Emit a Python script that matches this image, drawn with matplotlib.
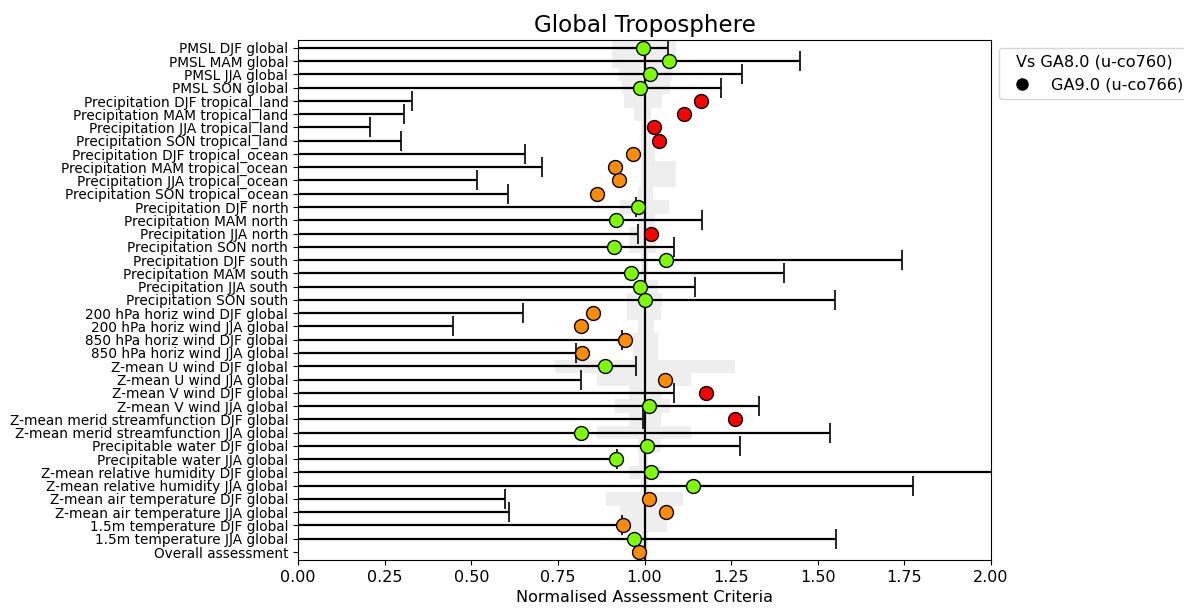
import matplotlib
matplotlib.use('Agg')
import matplotlib.pyplot as plt
from matplotlib.lines import Line2D
import numpy as np

# metric names, top to bottom
labels = ['PMSL DJF global', 'PMSL MAM global', 'PMSL JJA global', 'PMSL SON global',
          'Precipitation DJF tropical_land', 'Precipitation MAM tropical_land',
          'Precipitation JJA tropical_land', 'Precipitation SON tropical_land',
          'Precipitation DJF tropical_ocean', 'Precipitation MAM tropical_ocean',
          'Precipitation JJA tropical_ocean', 'Precipitation SON tropical_ocean',
          'Precipitation DJF north', 'Precipitation MAM north', 'Precipitation JJA north',
          'Precipitation SON north', 'Precipitation DJF south', 'Precipitation MAM south',
          'Precipitation JJA south', 'Precipitation SON south',
          '200 hPa horiz wind DJF global', '200 hPa horiz wind JJA global',
          '850 hPa horiz wind DJF global', '850 hPa horiz wind JJA global',
          'Z-mean U wind DJF global', 'Z-mean U wind JJA global',
          'Z-mean V wind DJF global', 'Z-mean V wind JJA global',
          'Z-mean merid streamfunction DJF global', 'Z-mean merid streamfunction JJA global',
          'Precipitable water DJF global', 'Precipitable water JJA global',
          'Z-mean relative humidity DJF global', 'Z-mean relative humidity JJA global',
          'Z-mean air temperature DJF global', 'Z-mean air temperature JJA global',
          '1.5m temperature DJF global', '1.5m temperature JJA global',
          'Overall assessment']

# normalised assessment criteria of GA9.0 vs GA8.0
scores = [0.995, 1.072, 1.015, 0.987, 1.163, 1.114, 1.028, 1.042, 0.967, 0.916,
          0.927, 0.862, 0.980, 0.918, 1.019, 0.911, 1.062, 0.960, 0.988, 1.001,
          0.851, 0.818, 0.944, 0.820, 0.886, 1.058, 1.178, 1.012, 1.260, 0.818,
          1.008, 0.918, 1.019, 1.141, 1.013, 1.061, 0.938, 0.969, 0.985]

# upper end of the observational uncertainty bar (None = no bar)
unc_hi = [1.068, 1.448, 1.280, 1.220, 0.329, 0.305, 0.208, 0.296, 0.656, 0.703,
          0.517, 0.606, 0.975, 1.166, 0.981, 1.085, 1.743, 1.402, 1.147, 1.550,
          0.650, 0.446, 0.935, 0.801, 0.976, 0.816, 1.086, 1.329, 0.997, 1.534,
          1.276, 0.922, 2.300, 1.775, 0.598, 0.610, 0.935, 1.554, None]

# grey reference range
ref_lo = [0.905, 0.905, 0.925, 0.935, 0.940, 0.970, 0.990, 0.990, 0.990, 0.990,
          0.990, 0.980, 0.930, 0.980, 0.955, 0.955, 0.990, 0.990, 0.975, 0.950,
          0.950, 0.980, 0.968, 0.968, 0.743, 0.862, 0.955, 0.915, 0.955, 0.862,
          0.980, 0.985, 0.955, 0.990, 0.889, 0.928, 0.928, 0.990, 0.990]
ref_hi = [1.090, 1.090, 1.080, 1.075, 1.050, 1.020, 1.020, 1.020, 1.030, 1.090,
          1.090, 1.025, 1.070, 1.030, 1.034, 1.034, 1.010, 1.010, 1.040, 1.050,
          1.048, 1.028, 1.040, 1.040, 1.260, 1.134, 1.048, 1.074, 1.048, 1.134,
          1.048, 1.010, 1.048, 1.010, 1.111, 1.065, 1.065, 1.010, 1.010]

# status of each metric
status = ['g', 'g', 'g', 'g', 'r', 'r', 'r', 'r', 'o', 'o',
          'o', 'o', 'g', 'g', 'r', 'g', 'g', 'g', 'g', 'g',
          'o', 'o', 'o', 'o', 'g', 'o', 'r', 'g', 'r', 'g',
          'g', 'g', 'g', 'g', 'o', 'o', 'o', 'g', 'o']
status_colours = {'g': '#7cfc00', 'o': '#ff8c00', 'r': '#ff0000'}

if __name__ == "__main__":
    n = len(labels)
    y = np.arange(n)

    fig = plt.figure(figsize=(11.84, 6.13), dpi=100)
    ax = fig.add_axes([0.2517, 0.0865, 0.5853, 0.8485])

    ax.barh(y, np.array(ref_hi) - np.array(ref_lo), left=ref_lo, height=1.0,
            color='#eeeeee', zorder=1)
    ax.axvline(1.0, color='black', lw=1.6, zorder=2)

    for i in range(n):
        if unc_hi[i] is None:
            continue
        ax.errorbar(unc_hi[i], y[i], xerr=[[unc_hi[i] + 1.0], [0.0]], fmt='none',
                    ecolor='black', elinewidth=1.6, capsize=7, capthick=1.2, zorder=3)

    for i in range(n):
        ax.plot(scores[i], y[i], 'o', ms=10, mfc=status_colours[status[i]],
                mec='black', mew=1.0, zorder=4)

    ax.set_xlim(0, 2)
    ax.set_ylim(n - 1 + 0.6, -0.6)
    ax.set_yticks(y)
    ax.set_yticklabels(labels, fontsize=9.8)
    ax.tick_params(axis='x', labelsize=11.5)
    ax.set_xlabel('Normalised Assessment Criteria', fontsize=11.5)
    ax.set_title('Global Troposphere', fontsize=16.6)

    handle = Line2D([], [], marker='o', color='black', ls='none', ms=8)
    ax.legend([handle], ['GA9.0 (u-co766)'], title='Vs GA8.0 (u-co760)',
              loc='upper left', bbox_to_anchor=(1.0, 1.0), fontsize=11.6,
              title_fontsize=11.6)

    fig.savefig('out.png', dpi=100)
